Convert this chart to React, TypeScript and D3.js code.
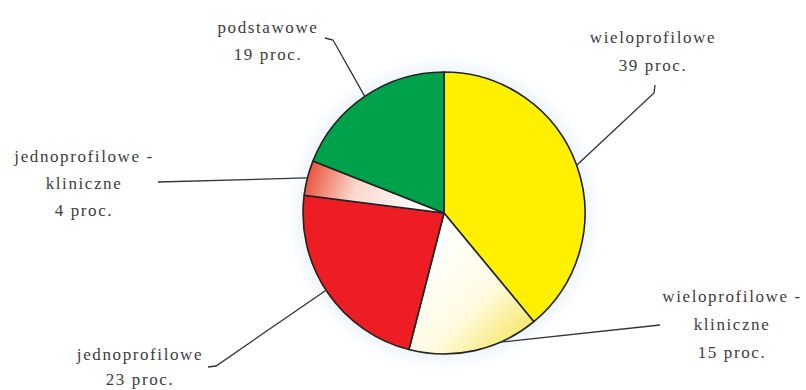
import React from "react";
import * as d3 from "d3";

const categories = ["wieloprofilowe", "wieloprofilowe - kliniczne", "jednoprofilowe", "jednoprofilowe - kliniczne", "podstawowe"];
const values = [39, 15, 23, 4, 19];
const labelLines = [
  ["wieloprofilowe", "39 proc."],
  ["wieloprofilowe -", "kliniczne", "15 proc."],
  ["jednoprofilowe", "23 proc."],
  ["jednoprofilowe -", "kliniczne", "4 proc."],
  ["podstawowe", "19 proc."],
];

// layout (not data)
const W = 806, H = 390;
const CX = 444, CY = 213, R = 141;
const fills = ["#FFF000", "url(#gPaleYellow)", "#EE1D23", "url(#gPaleRed)", "#00A14B"];
const labelPos = [
  { x: 653, y: 43, lh: 28 },
  { x: 732, y: 302, lh: 28 },
  { x: 140, y: 360, lh: 25 },
  { x: 84, y: 162, lh: 27 },
  { x: 268, y: 33, lh: 27 },
];
const leaderStart: [number, number][][] = [
  [[655, 85], [654, 93]],
  [[660, 325]],
  [[208, 367], [216, 366]],
  [[158, 182]],
  [[325, 38], [333, 40]],
];
const leaderAngleOffset = [0, -11, 1, 0, 0];

export default function App() {
  const pie = d3.pie<number>().sort(null).startAngle(0).endAngle(2 * Math.PI);
  const arcs = pie(values);
  const arc = d3.arc<d3.PieArcDatum<number>>().innerRadius(0).outerRadius(R);
  return (
    <svg width={W} height={H} style={{ position: "absolute", left: 0, top: 0, background: "#fff" }}>
      <defs>
        <linearGradient id="gPaleYellow" gradientUnits="userSpaceOnUse" x1={-4} y1={17} x2={96} y2={117}>
          <stop offset="0" stopColor="#ffffff" />
          <stop offset="0.55" stopColor="#fffbe2" />
          <stop offset="1" stopColor="#f6e55a" />
        </linearGradient>
        <linearGradient id="gPaleRed" gradientUnits="userSpaceOnUse" x1={-139} y1={-48} x2={-24} y2={-8}>
          <stop offset="0" stopColor="#e8452c" />
          <stop offset="0.45" stopColor="#fbd6cc" />
          <stop offset="1" stopColor="#ffffff" />
        </linearGradient>
        <filter id="halo" x="-20%" y="-20%" width="140%" height="140%">
          <feGaussianBlur stdDeviation="8" />
        </filter>
      </defs>
      <circle cx={CX} cy={CY} r={R + 6} fill="#e9f2fa" filter="url(#halo)" />
      <g transform={`translate(${CX},${CY})`}>
        {arcs.map((a, i) => (
          <path key={categories[i]} d={arc(a) || ""} fill={fills[i]} stroke="#222" strokeWidth={1.6} strokeLinejoin="round" />
        ))}
      </g>
      {arcs.map((a, i) => {
        const mid = (a.startAngle + a.endAngle) / 2 + (leaderAngleOffset[i] * Math.PI) / 180;
        const ex = CX + R * Math.sin(mid);
        const ey = CY - R * Math.cos(mid);
        const pts = [...leaderStart[i], [ex, ey] as [number, number]];
        const line = d3.line()(pts) || "";
        return <path key={"l" + i} d={line} fill="none" stroke="#333" strokeWidth={1.3} />;
      })}
      {labelLines.map((lines, i) => (
        <text
          key={"t" + i}
          x={labelPos[i].x}
          y={labelPos[i].y}
          textAnchor="middle"
          style={{ fontFamily: '"Liberation Serif", "Times New Roman", Tinos, Times, "DejaVu Serif", "Noto Serif", serif' }}
          fontSize={17}
          letterSpacing={1.6}
          fill="#3c3c3c"
        >
          {lines.map((s, j) => (
            <tspan key={j} x={labelPos[i].x} dy={j === 0 ? 0 : labelPos[i].lh}>
              {s}
            </tspan>
          ))}
        </text>
      ))}
    </svg>
  );
}
